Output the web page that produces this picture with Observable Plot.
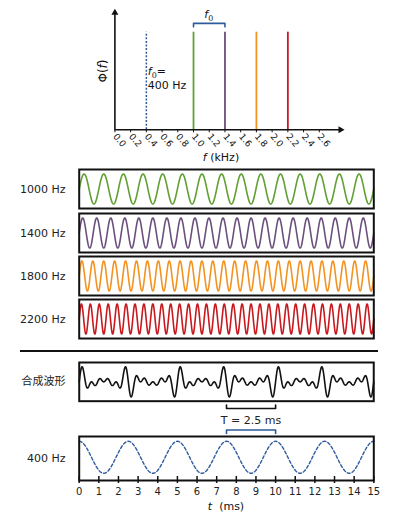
<!DOCTYPE html>
<html><head><meta charset="utf-8">
<script src="https://cdn.jsdelivr.net/npm/d3@7"></script>
<script src="https://cdn.jsdelivr.net/npm/@observablehq/plot@0.6"></script>
<style>
html,body{margin:0;padding:0;background:#fff;}
#chart{position:relative;width:394px;height:512px;overflow:hidden;font-family:"DejaVu Sans",sans-serif;}
#sep{position:absolute;left:20px;top:349.7px;width:358px;height:0;border-top:2px solid #111;}
</style></head><body><div id="chart"><div id="sep"></div></div>
<script>
// ---------------- data ----------------
const componentFreqsHz = [1000, 1400, 1800, 2200];
const componentLabels = ["1000 Hz", "1400 Hz", "1800 Hz", "2200 Hz"];
const fundamentalHz = 400;
const fundamentalLabel = "400 Hz";
const compositeLabel = "合成波形";
const periodLabel = "T = 2.5 ms";
const spectrumTicksKHz = [0.0, 0.2, 0.4, 0.6, 0.8, 1.0, 1.2, 1.4, 1.6, 1.8, 2.0, 2.2, 2.4, 2.6];
const timeTicksMs = [0, 1, 2, 3, 4, 5, 6, 7, 8, 9, 10, 11, 12, 13, 14, 15];
const durationMs = 15;
const periodBracketMs = [7.5, 10];
const spectrumBracketKHz = [1.0, 1.4];

// ---------------- styles ----------------
const componentColors = ["#62a033", "#6b4f7d", "#f29322", "#c8191e"];
const fundamentalColor = "#2e5b9c";
const ink = "#111";
const W = 394, ML = 78.7, MR = 394 - 373.3;
const baseStyle = {fontFamily: '"DejaVu Sans", sans-serif', fontSize: "11px", color: ink, background: "transparent", overflow: "visible"};

const components = componentFreqsHz.map((f, i) => ({f, label: componentLabels[i], color: componentColors[i]}));
const times = d3.range(0, durationMs + 1e-9, 0.01);
const sine = (fHz) => (t) => Math.sin(2 * Math.PI * (fHz / 1000) * t);
const cosine = (fHz) => (t) => Math.cos(2 * Math.PI * (fHz / 1000) * t);

const chart = document.getElementById("chart");
function place(el, top) {
  el.style.position = "absolute"; el.style.left = "0px"; el.style.top = top + "px";
  chart.appendChild(el); return el;
}
function richText(svg, x, y, parts, {anchor = "middle", size = 11, rotate = 0, family = '"DejaVu Sans", sans-serif'} = {}) {
  const t = d3.select(svg).append("text")
    .attr("x", x).attr("y", y).attr("text-anchor", anchor)
    .attr("font-size", size).attr("font-family", family).attr("fill", ink);
  if (rotate) t.attr("transform", `rotate(${rotate},${x},${y})`);
  for (const p of parts) {
    const s = t.append("tspan").text(p.text);
    if (p.italic) s.attr("font-style", "italic");
    if (p.sub) s.attr("font-size", size * 0.72).attr("dy", 3);
    if (p.after) s.attr("dy", -3);
  }
  return t;
}

// ---------------- spectrum ----------------
const specAxisEnd = 2.87, specAxisTop = 1.2;
const spec = Plot.plot({
  width: W, height: 165,
  marginLeft: 114.4, marginRight: 75.2, marginTop: 31.7, marginBottom: 35.7,
  style: baseStyle,
  x: {domain: [0, 2.6], label: null},
  y: {domain: [0, 1], axis: null},
  marks: [
    Plot.ruleX([fundamentalHz / 1000], {y1: 0, y2: 1, stroke: fundamentalColor, strokeWidth: 1.5, strokeDasharray: "2,1.6"}),
    ...components.map(c => Plot.ruleX([c.f / 1000], {y1: 0, y2: 1, stroke: c.color, strokeWidth: 1.8})),
    Plot.ruleY([0], {x1: 0, x2: specAxisEnd, stroke: ink, strokeWidth: 1.6}),
    Plot.ruleX([0], {y1: 0, y2: specAxisTop, stroke: ink, strokeWidth: 1.6}),
    Plot.dot([{x: specAxisEnd, y: 0}], {x: "x", y: "y", symbol: "triangle", rotate: 90, r: 2.6, fill: ink, stroke: null}),
    Plot.dot([{x: 0, y: specAxisTop}], {x: "x", y: "y", symbol: "triangle", r: 2.6, fill: ink, stroke: null}),
    Plot.axisX({ticks: spectrumTicksKHz, tickFormat: d3.format(".1f"), tickSize: 3, tickPadding: 2, tickRotate: 50,
      textAnchor: "start", lineAnchor: "middle", fontSize: 9, label: null, stroke: ink, fill: ink}),
    Plot.line([
      {x: spectrumBracketKHz[0], y: 1.055}, {x: spectrumBracketKHz[0], y: 1.09},
      {x: spectrumBracketKHz[1], y: 1.09}, {x: spectrumBracketKHz[1], y: 1.055}
    ], {x: "x", y: "y", stroke: fundamentalColor, strokeWidth: 1.6})
  ]
});
place(spec, 0);
{
  const sx = spec.scale("x");
  richText(spec, 221, 161, [{text: "f", italic: true}, {text: " (kHz)"}]);
  richText(spec, 107, 71, [{text: "Φ("}, {text: "f", italic: true}, {text: ")"}], {rotate: -90, size: 12});
  richText(spec, sx.apply(d3.mean(spectrumBracketKHz)), 18, [{text: "f", italic: true}, {text: "0", sub: true}]);
  richText(spec, sx.apply(fundamentalHz / 1000) + 2, 75, [{text: "f", italic: true}, {text: "0", sub: true}, {text: "=", after: true}], {anchor: "start"});
  richText(spec, sx.apply(fundamentalHz / 1000) + 2, 89, [{text: `${fundamentalHz} Hz`}], {anchor: "start"});
}

// ---------------- component waves ----------------
const panelTops = [169.3, 212.6, 255.9, 299.2];
components.forEach((c, i) => {
  const p = Plot.plot({
    width: W, height: 41, marginLeft: ML, marginRight: MR, marginTop: 1, marginBottom: 1,
    style: baseStyle,
    x: {domain: [0, durationMs], axis: null},
    y: {domain: [-1.3, 1.3], axis: null},
    marks: [
      Plot.line(times, {x: t => t, y: sine(c.f), stroke: c.color, strokeWidth: 1.6}),
      Plot.frame({stroke: ink, strokeWidth: 2}),
      Plot.text([c.label], {text: d => d, frameAnchor: "left", dx: -13.7, textAnchor: "end", fontSize: 11, fill: "#222"})
    ]
  });
  place(p, panelTops[i] - 1);
});

// ---------------- composite ----------------
const compositeWave = times.map(t => ({t, v: d3.sum(componentFreqsHz, f => sine(f)(t))}));
const comp = Plot.plot({
  width: W, height: 40.7, marginLeft: ML, marginRight: MR, marginTop: 1, marginBottom: 1,
  style: baseStyle,
  x: {domain: [0, durationMs], axis: null},
  y: {domain: [-4.7, 4.7], axis: null},
  marks: [
    Plot.line(compositeWave, {x: "t", y: "v", stroke: ink, strokeWidth: 1.6}),
    Plot.frame({stroke: ink, strokeWidth: 2}),
    Plot.text([compositeLabel], {text: d => d, frameAnchor: "left", dx: -13.7, textAnchor: "end", fontSize: 11, fill: "#222",
      fontFamily: '"Noto Sans CJK SC", sans-serif'})
  ]
});
place(comp, 361.3);

// ---------------- fundamental ----------------
const fundTop = 1.3;
const bracketLine = (lo, hi) => [
  {t: periodBracketMs[0], y: lo}, {t: periodBracketMs[0], y: hi},
  {t: periodBracketMs[1], y: hi}, {t: periodBracketMs[1], y: lo}
];
const fund = Plot.plot({
  width: W, height: 110, marginLeft: ML, marginRight: MR, marginTop: 34, marginBottom: 32,
  style: baseStyle,
  x: {domain: [0, durationMs], label: null},
  y: {domain: [-1.45, fundTop], axis: null},
  marks: [
    Plot.line(times, {x: t => t, y: cosine(fundamentalHz), stroke: fundamentalColor, strokeWidth: 1.4, strokeDasharray: "3,2.2"}),
    Plot.frame({stroke: ink, strokeWidth: 2}),
    Plot.ruleX(timeTicksMs, {insetTop: 40, stroke: ink, strokeWidth: 1.5}),
    Plot.axisX({ticks: timeTicksMs, tickFormat: d => String(d), tickSize: 3, tickPadding: 4, fontSize: 10, label: null, strokeWidth: 1.5, stroke: ink, fill: "#222"}),
    Plot.text([fundamentalLabel], {text: d => d, frameAnchor: "left", dx: -13.7, textAnchor: "end", fontSize: 11, fill: "#222"}),
    Plot.line(bracketLine(1.49, 1.706), {x: "t", y: "y", stroke: fundamentalColor, strokeWidth: 1.6}),
    Plot.line(bracketLine(3.27, 3.05), {x: "t", y: "y", stroke: ink, strokeWidth: 1.6}),
    Plot.text([{t: d3.mean(periodBracketMs), label: periodLabel}], {x: "t", y: () => 2.3, text: "label", fontSize: 11, fill: "#222", lineAnchor: "middle"})
  ]
});
place(fund, 402);
richText(fund, fund.scale("x").apply(durationMs / 2), 108, [{text: "t", italic: true}, {text: "  (ms)"}]);
</script></body></html>
